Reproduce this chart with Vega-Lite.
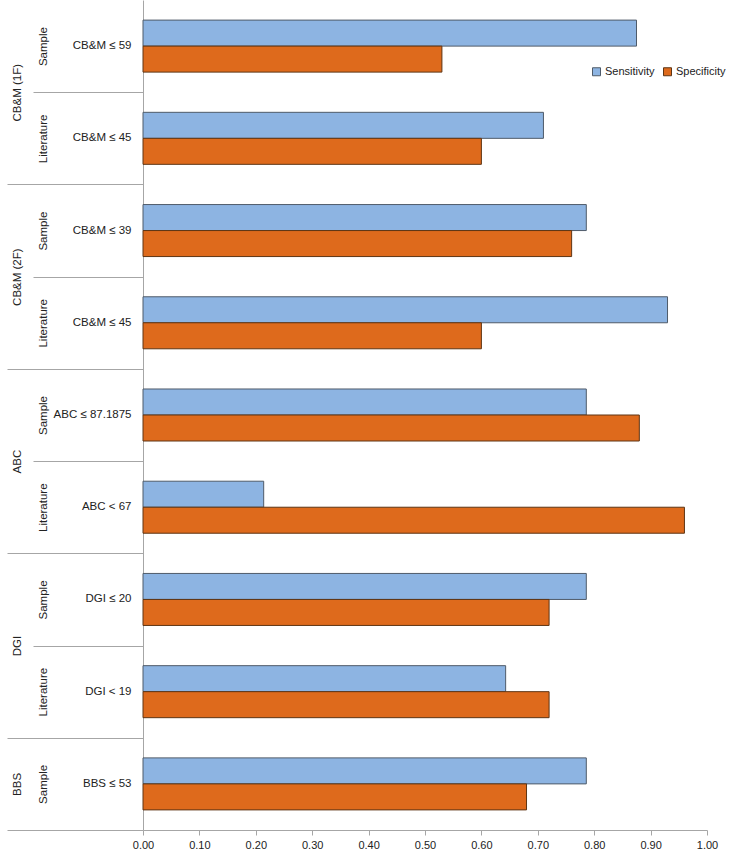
{
  "$schema": "https://vega.github.io/schema/vega-lite/v6.json",
  "width": 564,
  "height": 830,
  "autosize": {"type": "none"},
  "padding": {"left": 143, "top": 0, "right": 29, "bottom": 26},
  "background": "white",
  "config": {
    "view": {"stroke": null},
    "font": "Liberation Sans Narrow, Arial Narrow, Liberation Sans, Arial, sans-serif",
    "axis": {"grid": false, "labelColor": "#222222", "labelFont": "Liberation Sans Narrow, Arial Narrow, Liberation Sans, Arial, sans-serif"},
    "legend": {"labelFont": "Liberation Sans Narrow, Arial Narrow, Liberation Sans, Arial, sans-serif", "labelColor": "#222222"}
  },
  "data": {
    "values": [
      {"row": "1", "group": "CB&M (1F)", "source": "Sample", "cutoff": "CB&M ≤ 59", "measure": "Sensitivity", "value": 0.875},
      {"row": "1", "group": "CB&M (1F)", "source": "Sample", "cutoff": "CB&M ≤ 59", "measure": "Specificity", "value": 0.53},
      {"row": "2", "group": "CB&M (1F)", "source": "Literature", "cutoff": "CB&M ≤ 45", "measure": "Sensitivity", "value": 0.71},
      {"row": "2", "group": "CB&M (1F)", "source": "Literature", "cutoff": "CB&M ≤ 45", "measure": "Specificity", "value": 0.60},
      {"row": "3", "group": "CB&M (2F)", "source": "Sample", "cutoff": "CB&M ≤ 39", "measure": "Sensitivity", "value": 0.786},
      {"row": "3", "group": "CB&M (2F)", "source": "Sample", "cutoff": "CB&M ≤ 39", "measure": "Specificity", "value": 0.76},
      {"row": "4", "group": "CB&M (2F)", "source": "Literature", "cutoff": "CB&M ≤ 45", "measure": "Sensitivity", "value": 0.93},
      {"row": "4", "group": "CB&M (2F)", "source": "Literature", "cutoff": "CB&M ≤ 45", "measure": "Specificity", "value": 0.60},
      {"row": "5", "group": "ABC", "source": "Sample", "cutoff": "ABC ≤ 87.1875", "measure": "Sensitivity", "value": 0.786},
      {"row": "5", "group": "ABC", "source": "Sample", "cutoff": "ABC ≤ 87.1875", "measure": "Specificity", "value": 0.88},
      {"row": "6", "group": "ABC", "source": "Literature", "cutoff": "ABC < 67", "measure": "Sensitivity", "value": 0.214},
      {"row": "6", "group": "ABC", "source": "Literature", "cutoff": "ABC < 67", "measure": "Specificity", "value": 0.96},
      {"row": "7", "group": "DGI", "source": "Sample", "cutoff": "DGI ≤ 20", "measure": "Sensitivity", "value": 0.786},
      {"row": "7", "group": "DGI", "source": "Sample", "cutoff": "DGI ≤ 20", "measure": "Specificity", "value": 0.72},
      {"row": "8", "group": "DGI", "source": "Literature", "cutoff": "DGI < 19", "measure": "Sensitivity", "value": 0.643},
      {"row": "8", "group": "DGI", "source": "Literature", "cutoff": "DGI < 19", "measure": "Specificity", "value": 0.72},
      {"row": "9", "group": "BBS", "source": "Sample", "cutoff": "BBS ≤ 53", "measure": "Sensitivity", "value": 0.786},
      {"row": "9", "group": "BBS", "source": "Sample", "cutoff": "BBS ≤ 53", "measure": "Specificity", "value": 0.68}
    ]
  },
  "layer": [
    {
      "mark": {"type": "bar", "strokeWidth": 1},
      "encoding": {
        "y": {
          "field": "row", "type": "nominal", "sort": null,
          "scale": {"paddingInner": 0.436, "paddingOuter": 0.218},
          "axis": {
            "title": null, "orient": "left", "ticks": false, "tickSize": 0, "labelPadding": 12,
            "labelFontSize": 11.5, "domainColor": "#a6a6a6", "domainWidth": 1,
            "labelExpr": "['CB&M ≤ 59','CB&M ≤ 45','CB&M ≤ 39','CB&M ≤ 45','ABC ≤ 87.1875','ABC < 67','DGI ≤ 20','DGI < 19','BBS ≤ 53'][toNumber(datum.value)-1]"
          }
        },
        "yOffset": {"field": "measure", "type": "nominal", "sort": ["Sensitivity", "Specificity"]},
        "x": {
          "field": "value", "type": "quantitative",
          "scale": {"domain": [0, 1], "nice": false},
          "axis": {
            "title": null, "values": [0, 0.1, 0.2, 0.3, 0.4, 0.5, 0.6, 0.7, 0.8, 0.9, 1.0],
            "format": ".2f", "labelFlush": false, "tickSize": 5, "tickColor": "#a6a6a6",
            "domainColor": "#a6a6a6", "labelFontSize": 11, "labelPadding": 4
          }
        },
        "color": {
          "field": "measure", "type": "nominal",
          "scale": {"domain": ["Sensitivity", "Specificity"], "range": ["#8DB4E2", "#DE6A1C"]},
          "legend": {
            "title": null, "orient": "none", "legendX": 448, "legendY": 66, "direction": "horizontal",
            "symbolType": "square", "symbolSize": 64, "labelFontSize": 11, "columnPadding": 6,
            "labelOffset": 3, "symbolStrokeWidth": 1, "symbolStrokeColor": "#555555"
          }
        },
        "stroke": {
          "field": "measure", "type": "nominal",
          "scale": {"domain": ["Sensitivity", "Specificity"], "range": ["#4F5B69", "#5E3514"]},
          "legend": null
        }
      }
    },
    {
      "data": {"values": [{}]},
      "mark": {"type": "rule", "opacity": 0},
      "encoding": {
        "y": {
          "datum": 0, "type": "quantitative",
          "scale": {"domain": [0, 9], "reverse": true, "nice": false, "zero": false},
          "axis": {
            "title": null, "orient": "left", "values": [1, 3, 5, 7, 8.5],
            "labelExpr": "datum.value == 1 ? 'CB&M (1F)' : datum.value == 3 ? 'CB&M (2F)' : datum.value == 5 ? 'ABC' : datum.value == 7 ? 'DGI' : 'BBS'",
            "labelAngle": -90, "labelAlign": "center", "labelBaseline": "middle",
            "ticks": false, "tickSize": 0, "domain": false, "labelPadding": 126,
            "labelFontSize": 11.5, "labelOverlap": false, "labelBound": false
          }
        }
      }
    },
    {
      "data": {"values": [{}]},
      "mark": {"type": "rule", "opacity": 0},
      "encoding": {
        "y": {
          "datum": 0, "type": "quantitative",
          "scale": {"domain": [0, 9], "reverse": true, "nice": false, "zero": false},
          "axis": {
            "title": null, "orient": "left", "values": [0.5, 1.5, 2.5, 3.5, 4.5, 5.5, 6.5, 7.5, 8.5],
            "labelExpr": "floor(datum.value) % 2 == 0 ? 'Sample' : 'Literature'",
            "labelAngle": -90, "labelAlign": "center", "labelBaseline": "middle",
            "ticks": false, "tickSize": 0, "domain": false, "labelPadding": 100,
            "labelFontSize": 11.5, "labelOverlap": false, "labelBound": false
          }
        }
      }
    },
    {
      "data": {"values": [{}]},
      "mark": {"type": "rule", "opacity": 0},
      "encoding": {
        "y": {
          "datum": 0, "type": "quantitative",
          "scale": {"domain": [0, 9], "reverse": true, "nice": false, "zero": false},
          "axis": {
            "title": null, "orient": "left", "values": [2, 4, 6, 8, 9],
            "labels": false, "domain": false, "ticks": true, "tickSize": 136,
            "tickColor": "#a6a6a6", "tickWidth": 1
          }
        }
      }
    },
    {
      "data": {"values": [{}]},
      "mark": {"type": "rule", "opacity": 0},
      "encoding": {
        "y": {
          "datum": 0, "type": "quantitative",
          "scale": {"domain": [0, 9], "reverse": true, "nice": false, "zero": false},
          "axis": {
            "title": null, "orient": "left", "values": [1, 3, 5, 7],
            "labels": false, "domain": false, "ticks": true, "tickSize": 110,
            "tickColor": "#a6a6a6", "tickWidth": 1
          }
        }
      }
    }
  ],
  "resolve": {"scale": {"y": "independent"}, "axis": {"y": "independent"}}
}
